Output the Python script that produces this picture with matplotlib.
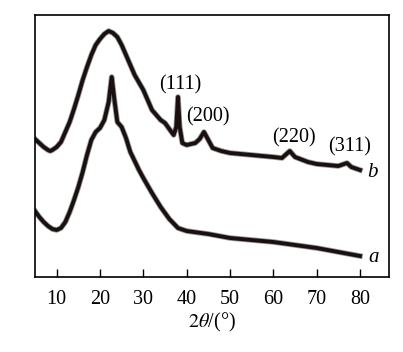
import matplotlib
matplotlib.use('Agg')
import matplotlib.pyplot as plt

plt.rcParams['font.family'] = ['Liberation Serif', 'DejaVu Serif']
plt.rcParams['mathtext.fontset'] = 'stix'

# 2θ (°) 与强度（任意单位）
theta_a = [5, 6, 7, 8, 9, 10, 11, 12, 13, 14, 15, 16, 17, 18, 19, 20, 21, 22, 22.7,
           23.3, 24, 25, 26, 27, 28, 29, 30, 32, 34, 36, 38, 40, 45, 50, 55, 60,
           65, 70, 75, 80]
int_a = [66, 60, 55, 51, 48, 47, 49, 55, 65, 77, 90, 105, 122, 137, 145, 149, 157,
         175, 200, 178, 155, 150, 139, 125, 116, 107, 99, 84, 70, 58, 49, 46, 43,
         39, 37, 35, 32, 29, 25, 21]

theta_b = [5, 6, 7, 8, 8.5, 9, 10, 11, 12, 13, 14, 15, 16, 17, 18, 19, 20, 21, 22,
           23, 24, 25, 26, 27, 28, 30, 32, 34, 35, 36, 37, 37.6, 38, 38.4, 39, 40,
           42, 43, 44, 45, 46, 48, 50, 55, 60, 62, 63.8, 65, 68, 70, 75, 77, 78, 80]
int_b = [138, 134, 130, 127, 126, 127, 130, 135, 145, 155, 168, 182, 197, 210, 222,
         232, 238, 243, 246, 244, 240, 232, 222, 212, 202, 187, 167, 157, 154, 148,
         142, 150, 180, 150, 134, 132, 134, 138, 145, 137, 129, 126, 124, 122, 120,
         119, 126, 120, 115, 113, 111, 114, 110, 107]

xticks = [10, 20, 30, 40, 50, 60, 70, 80]
peak_labels = ['(111)', '(200)', '(220)', '(311)']
peak_x = [38.6, 45.0, 64.7, 77.5]
peak_y = [192, 160, 139, 130]

fig = plt.figure(figsize=(4.03, 3.52), dpi=100)
ax = fig.add_axes([35 / 403, 1 - 277 / 352, 354 / 403, 262 / 352])

for th, it in [(theta_a, int_a), (theta_b, int_b)]:
    ax.plot(th, it, color='#9a9a9a', lw=4.0, solid_joinstyle='round')
    ax.plot(th, it, color='#1a1010', lw=2.8, solid_joinstyle='round')

for lab, x, y in zip(peak_labels, peak_x, peak_y):
    ax.text(x, y, lab, ha='center', va='center', fontsize=14.5)
ax.text(83.0, 105, 'b', ha='center', va='center', fontsize=15, style='italic')
ax.text(83.2, 19, 'a', ha='center', va='center', fontsize=15, style='italic')

ax.set_xlim(5, 86.7)
ax.set_ylim(0, 262)
ax.set_xticks(xticks)
ax.set_yticks([])
ax.tick_params(axis='x', direction='in', length=6, width=1, labelsize=14.5, pad=9)
for s in ax.spines.values():
    s.set_linewidth(1.2)
ax.set_xlabel(r'$2\theta$/(°)', fontsize=14.5, labelpad=2)

fig.savefig('out.png', dpi=100)
